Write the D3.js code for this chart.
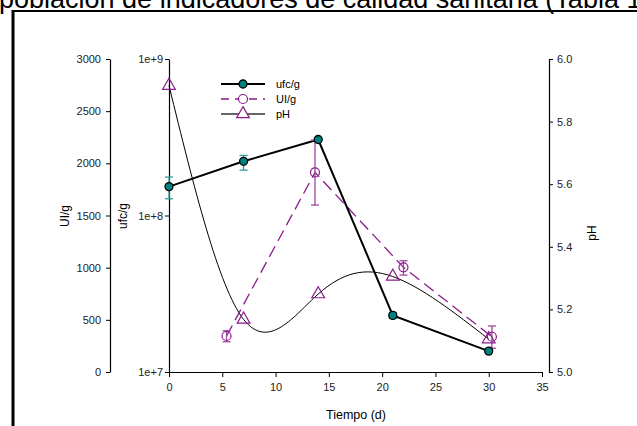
<!DOCTYPE html>
<html>
<head>
<meta charset="utf-8">
<script src="https://cdn.jsdelivr.net/npm/d3@7"></script>
<style>
  body { margin: 0; background: #fff; }
  svg { display: block; font-family: "Liberation Sans", Arial, sans-serif; }
  .tick text { font-size: 11px; fill: #222; }
</style>
</head>
<body>
<svg id="chart" width="637" height="426"></svg>
<script>
// data
var titleText = 'población de indicadores de calidad sanitaria (Tabla 1)';

var ufcDays = [0, 7, 14, 21, 30];
var ufcVals = [1.53e8, 2.22e8, 3.06e8, 2.3e7, 1.36e7];
var ufcLo = [1.28e8, 1.95e8, 3.0e8, 2.2e7, 1.34e7];
var ufcHi = [1.76e8, 2.42e8, 3.12e8, 2.4e7, 1.38e7];

var uiDays = [5.4, 13.7, 22, 30.3];
var uiVals = [345, 1913, 1003, 338];
var uiLo = [290, 1600, 929, 227];
var uiHi = [396, 2222, 1066, 441];

var phDays = [0, 7, 14, 21, 30];
var phVals = [5.915, 5.168, 5.249, 5.305, 5.105];

var xTicks = [0, 5, 10, 15, 20, 25, 30, 35];
var uiTicks = [0, 500, 1000, 1500, 2000, 2500, 3000];
var ufcTicks = [1e7, 1e8, 1e9];
var phTicks = [5.0, 5.2, 5.4, 5.6, 5.8, 6.0];

var legendItems = ['ufc/g', 'UI/g', 'pH'];

(function() {
  var svg = d3.select('#chart');
  var teal = '#008080', tealBar = '#339c9c', purple = '#8b1a8b';

  var x = d3.scaleLinear().domain([0, 35]).range([169, 542]);
  var yUi = d3.scaleLinear().domain([0, 3000]).range([372, 59]);
  var yUfc = d3.scaleLog().domain([1e7, 1e9]).range([372, 59]);
  var yPh = d3.scaleLinear().domain([5, 6]).range([372, 59]);

  // title, cut off by the page edge like in the original
  svg.append('text').attr('x', -1).attr('y', 8)
    .style('font-size', '27px').attr('fill', '#000').text(titleText);

  // frame
  svg.append('line').attr('x1', 13).attr('x2', 637).attr('y1', 11).attr('y2', 11)
    .attr('stroke', '#000').attr('stroke-width', 2);
  svg.append('line').attr('x1', 13).attr('x2', 13).attr('y1', 10).attr('y2', 426)
    .attr('stroke', '#000').attr('stroke-width', 3);

  // axes
  svg.append('g').attr('transform', 'translate(0,372)')
    .call(d3.axisBottom(x).tickValues(xTicks).tickSize(5).tickSizeOuter(0).tickPadding(6));
  svg.append('g').attr('transform', 'translate(110,0)')
    .call(d3.axisLeft(yUi).tickValues(uiTicks).tickSize(4).tickSizeOuter(0).tickPadding(5)
      .tickFormat(d3.format('d')));
  svg.append('g').attr('transform', 'translate(169,0)')
    .call(d3.axisLeft(yUfc).tickValues(ufcTicks).tickSize(4).tickSizeOuter(0).tickPadding(2)
      .tickFormat(function(d) { return '1e+' + Math.round(Math.log10(d)); }));
  svg.append('g').attr('transform', 'translate(549,0)')
    .call(d3.axisRight(yPh).tickValues(phTicks).tickSize(4).tickSizeOuter(0).tickPadding(4)
      .tickFormat(d3.format('.1f')));
  svg.selectAll('.domain').attr('stroke', '#000').attr('stroke-width', 1.2);

  // axis titles
  function vtitle(tx, ty, s) {
    svg.append('text').attr('transform', 'translate(' + tx + ',' + ty + ') rotate(-90)')
      .attr('text-anchor', 'middle').style('font-size', '12px').text(s);
  }
  vtitle(69, 216, 'UI/g');
  vtitle(127, 216, 'ufc/g');
  vtitle(596, 233, 'pH');
  svg.append('text').attr('x', 356).attr('y', 419).attr('text-anchor', 'middle')
    .style('font-size', '12.5px').text('Tiempo (d)');

  // pH smooth curve
  var phPts = phDays.map(function(d, i) { return [x(d), yPh(phVals[i])]; });
  svg.append('path').attr('d', d3.line().curve(d3.curveNatural)(phPts))
    .attr('fill', 'none').attr('stroke', '#000').attr('stroke-width', 1);

  // UI/g dashed line
  var uiPts = uiDays.map(function(d, i) { return [x(d), yUi(uiVals[i])]; });
  svg.append('path').attr('d', d3.line()(uiPts))
    .attr('fill', 'none').attr('stroke', purple).attr('stroke-width', 1.3)
    .attr('stroke-dasharray', '12,6');

  // ufc/g line
  var ufcPts = ufcDays.map(function(d, i) { return [x(d), yUfc(ufcVals[i])]; });
  svg.append('path').attr('d', d3.line()(ufcPts))
    .attr('fill', 'none').attr('stroke', '#000').attr('stroke-width', 2);

  function errBars(days, lo, hi, y, color) {
    var g = svg.append('g').attr('stroke', color).attr('stroke-width', 1.3);
    days.forEach(function(d, i) {
      var cx = x(d);
      g.append('line').attr('x1', cx).attr('x2', cx).attr('y1', y(lo[i])).attr('y2', y(hi[i]));
      [lo[i], hi[i]].forEach(function(v) {
        g.append('line').attr('x1', cx - 4).attr('x2', cx + 4).attr('y1', y(v)).attr('y2', y(v));
      });
    });
  }
  errBars(uiDays, uiLo, uiHi, yUi, '#9c4a9c');
  errBars(ufcDays, ufcLo, ufcHi, yUfc, tealBar);

  // markers
  var tri = d3.symbol().type(d3.symbolTriangle).size(70);
  function triangle(g, cx, cy, fill) {
    g.append('path').attr('d', tri()).attr('transform', 'translate(' + cx + ',' + cy + ')')
      .attr('fill', fill || 'none').attr('stroke', purple).attr('stroke-width', 1.2);
  }
  var mk = svg.append('g');
  phPts.forEach(function(p) { triangle(mk, p[0], p[1]); });
  uiPts.forEach(function(p) {
    mk.append('circle').attr('cx', p[0]).attr('cy', p[1]).attr('r', 4.5)
      .attr('fill', 'none').attr('stroke', purple).attr('stroke-width', 1.2);
  });
  ufcPts.forEach(function(p) {
    mk.append('circle').attr('cx', p[0]).attr('cy', p[1]).attr('r', 4)
      .attr('fill', teal).attr('stroke', '#000').attr('stroke-width', 1.3);
  });

  // legend
  var lg = svg.append('g');
  legendItems.forEach(function(name, i) {
    var ly = 84 + i * 15;
    var line = lg.append('line').attr('x1', 221).attr('x2', 265).attr('y1', ly).attr('y2', ly);
    if (i === 0) {
      line.attr('stroke', '#000').attr('stroke-width', 2);
      lg.append('circle').attr('cx', 243).attr('cy', ly).attr('r', 4)
        .attr('fill', teal).attr('stroke', '#000').attr('stroke-width', 1.3);
    } else if (i === 1) {
      line.attr('stroke', purple).attr('stroke-width', 1.3).attr('stroke-dasharray', '8,6');
      lg.append('circle').attr('cx', 243).attr('cy', ly).attr('r', 4.5)
        .attr('fill', '#fff').attr('stroke', purple).attr('stroke-width', 1.2);
    } else {
      line.attr('stroke', '#666').attr('stroke-width', 2);
      triangle(lg, 243, ly, '#fff');
    }
    lg.append('text').attr('x', 276).attr('y', ly + 4).style('font-size', '11px').text(name);
  });
})();
</script>
</body>
</html>
